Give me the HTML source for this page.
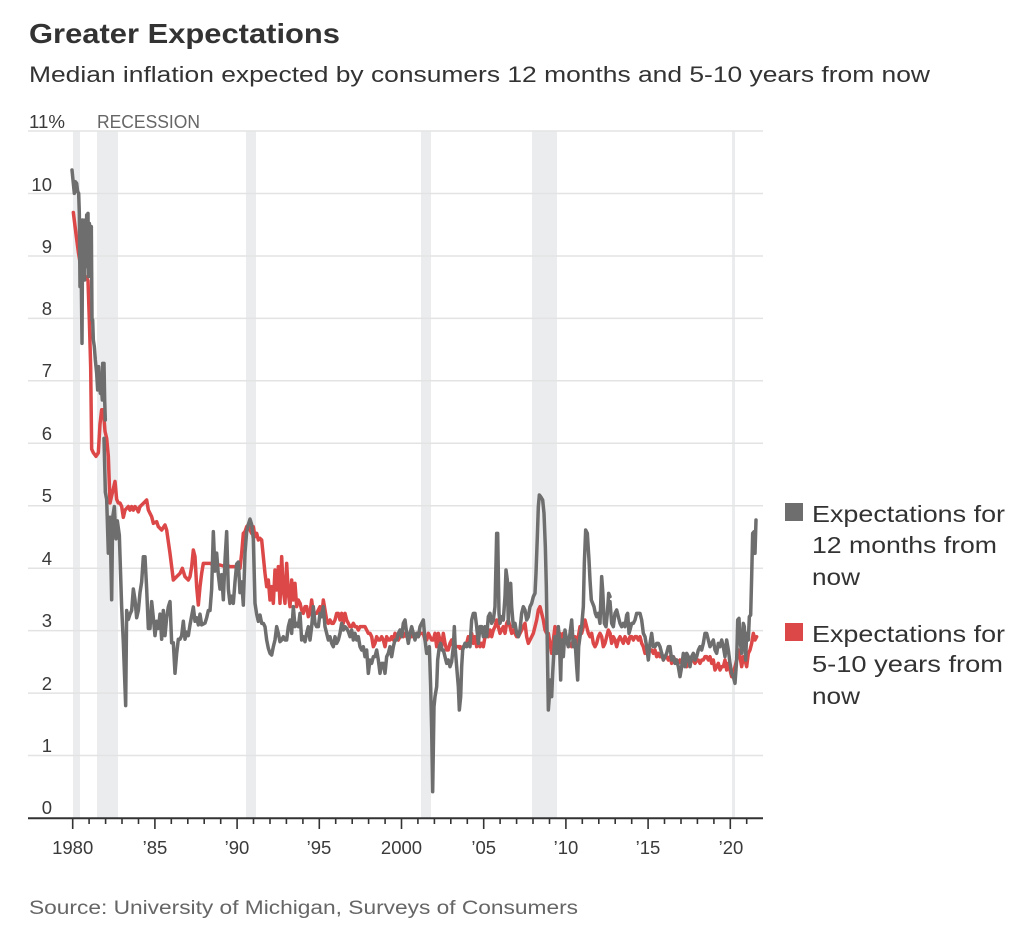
<!DOCTYPE html>
<html>
<head>
<meta charset="utf-8">
<style>
html,body{margin:0;padding:0;background:#fff;}
svg{display:block;}
text{font-family:"Liberation Sans",sans-serif;}
</style>
</head>
<body>
<svg width="1024" height="931" viewBox="0 0 1024 931" xmlns="http://www.w3.org/2000/svg">
<rect x="0" y="0" width="1024" height="931" fill="#fff"/>
<text x="29" y="43" font-size="28" font-weight="bold" fill="#333" textLength="311" lengthAdjust="spacingAndGlyphs">Greater Expectations</text>
<text x="29" y="82" font-size="22" fill="#333" textLength="901" lengthAdjust="spacingAndGlyphs">Median inflation expected by consumers 12 months and 5-10 years from now</text>
<g fill="#ebecee">
<rect x="73" y="131" width="7" height="687"/>
<rect x="97" y="131" width="21" height="687"/>
<rect x="246" y="131" width="10" height="687"/>
<rect x="421" y="131" width="10" height="687"/>
<rect x="532" y="131" width="25" height="687"/>
<rect x="732" y="131" width="3" height="687"/>
</g>
<g stroke="#e3e3e3" stroke-width="1.5">
<line x1="28" y1="131" x2="763" y2="131"/>
<line x1="28" y1="193.5" x2="763" y2="193.5"/>
<line x1="28" y1="256" x2="763" y2="256"/>
<line x1="28" y1="318.4" x2="763" y2="318.4"/>
<line x1="28" y1="380.8" x2="763" y2="380.8"/>
<line x1="28" y1="443.3" x2="763" y2="443.3"/>
<line x1="28" y1="505.7" x2="763" y2="505.7"/>
<line x1="28" y1="568.2" x2="763" y2="568.2"/>
<line x1="28" y1="630.6" x2="763" y2="630.6"/>
<line x1="28" y1="693.1" x2="763" y2="693.1"/>
<line x1="28" y1="755.5" x2="763" y2="755.5"/>
</g>
<g font-size="18.5" fill="#3a3a3a" text-anchor="end">
<text x="52" y="191">10</text>
<text x="52" y="253">9</text>
<text x="52" y="315">8</text>
<text x="52" y="377">7</text>
<text x="52" y="440">6</text>
<text x="52" y="502">5</text>
<text x="52" y="565">4</text>
<text x="52" y="627">3</text>
<text x="52" y="690">2</text>
<text x="52" y="752">1</text>
<text x="52" y="814">0</text>
</g>
<text x="29" y="128" font-size="18.5" fill="#3a3a3a" textLength="36" lengthAdjust="spacingAndGlyphs">11%</text>
<text x="97" y="128" font-size="18.5" fill="#666" textLength="103" lengthAdjust="spacingAndGlyphs">RECESSION</text>
<g fill="none" stroke="#dc4848" stroke-width="3.5" stroke-linejoin="round" stroke-linecap="round">
<polyline vector-effect="non-scaling-stroke" transform="translate(60,158.7) scale(0.33333,0.3586)" points="40,150 48,210 55,260 62,300 70,320 78,330 84,340 88,450 92,580 95,810 100,820 108,830 115,820 120,740 125,700 130,700 135,760 140,780 145,830 150,960 155,940 160,920 165,900 170,950 175,960 180,960 185,970 190,1000 195,980 200,975 205,970 210,980 215,970 220,980 225,970 230,975 235,985 240,970"/>
<polyline vector-effect="non-scaling-stroke" transform="translate(140,440) scale(0.33333)" points="0,200 10,190 20,180 25,210 35,230 40,250 50,245 55,260 65,270 75,255 80,270 90,340 100,420 110,410 120,400 127,385 135,410 145,420 150,410 155,380 160,330 165,350 170,440 175,495 180,440 185,400 190,370 200,370 210,370 220,375 230,375 240,375 250,378 260,375 270,380 280,380 290,380 300,385 305,340 310,280 315,275 320,260 325,255 330,270 335,280 340,260 345,290 350,280 355,300 360,295 365,300 370,350 375,400 380,440 385,420 390,480 395,440 400,490 405,390 410,450 415,380 420,490 425,350 430,450 435,490 440,370 445,460 450,500 455,420 460,480 465,430 470,500 475,480 480,490"/>
<polyline vector-effect="non-scaling-stroke" transform="translate(240,500) scale(0.33333)" points="180,310 185,330 190,340 195,320 200,320 205,350 210,340 215,300 220,340 225,340 230,340 235,330 240,320 245,350 250,300 255,330 260,360 265,370 270,360 275,370 280,370 285,360 290,340 295,340 300,360 305,340 310,370 315,340 320,360 325,370 330,380 335,380 340,370 345,380 350,380 355,390 360,380 365,380 370,380 375,380 380,390 385,400 390,400 395,410 400,440 405,430 410,410 415,420 420,420 425,410 430,420 435,440 440,410 445,420 450,420 455,410 460,420 465,400 470,410 475,420 480,410 485,400 490,410 495,400 500,410 505,400 510,400 515,410 520,400 525,410 530,400 535,410 540,400 545,400 550,400 555,420 560,420 565,400 570,410 575,420 580,420 585,400 590,440 595,400 600,420 605,440 610,400 615,430 620,450 625,450 630,430 635,420 640,440 650,440 660,440"/>
<polyline vector-effect="non-scaling-stroke" transform="translate(410,480) scale(0.33333)" points="150,505 160,500 170,490 175,470 180,480 185,460 190,490 195,470 200,500 205,480 210,500 215,490 220,500 225,470 230,460 235,470 240,450 245,470 250,450 255,440 260,420 265,440 270,460 275,450 280,440 285,460 290,430 295,420 300,440 305,460 310,450 315,460 320,470 325,470 330,460 335,450 340,440 345,430 350,470 355,490 360,480 365,470 370,460 375,440 380,420 385,390 390,380 395,400 400,420 405,450 410,460 415,460 420,490 425,520 430,480 435,440 440,450 445,480 450,460 455,480 460,460 465,470 470,480 475,500 480,490 485,500 490,480 495,470 500,500 505,470 510,440 515,460 520,440 525,420 530,440 535,460 540,470 545,460 550,490 555,500 560,490 565,470 570,460 575,470 580,500 585,490 590,470 595,450 600,460"/>
<polyline vector-effect="non-scaling-stroke" transform="translate(590,500) scale(0.33333)" points="60,400 65,430 70,410 75,420 80,440 85,420 90,410 95,420 100,430 105,410 110,420 115,430 120,410 125,410 130,420 135,410 140,410 145,420 150,410 155,430 160,440 165,460 170,450 175,460 180,450 185,450 190,460 195,450 200,470 205,460 210,470 215,460 220,480 225,470 230,470 235,480 240,470 245,490 250,470 255,480 260,480 265,490 270,480 275,490 280,480 285,490 290,500 295,480 300,490 305,470 310,480 315,490 320,480 325,480 330,490 335,480 340,480 345,470 350,470 355,480 360,470 365,490 370,480 375,510 380,500 385,490 390,510 395,500 400,500 405,480 410,510 415,490 420,510 425,530 430,520 435,500 440,480 445,450 450,470 455,500 460,470 465,480 470,500 475,460 480,450 485,430 490,400 495,420 500,410"/>
</g>
<g fill="none" stroke="#6e6e6e" stroke-width="3.5" stroke-linejoin="round" stroke-linecap="round">
<polyline vector-effect="non-scaling-stroke" transform="translate(66,160) scale(0.33333)" points="18,30 22,70 25,100 28,65 32,70 35,95 38,100 40,160 42,380 44,180 46,370 48,550 50,180 52,330 54,190 56,360 58,180 60,300 62,165 64,320 66,160 68,350 70,190 72,200 74,300 76,200 78,480 80,480 82,540 85,560 88,600 92,640 95,690 98,620 100,650 103,700 106,680 109,720 110,610 114,610 116,720 118,780"/>
<polyline vector-effect="non-scaling-stroke" transform="translate(60,158.7) scale(0.33333,0.3586)" points="132,780 136,930 140,950 145,1100 150,1000 155,1230 158,1000 163,970 168,1060 172,1010 178,1050 185,1250 190,1350 197,1525 200,1260 205,1285 210,1270 215,1260 220,1200 225,1230 230,1280 235,1260 240,1210 245,1180 250,1110 255,1110 260,1200 265,1310 270,1310 275,1235 280,1280 285,1330 290,1290 295,1310 300,1270 305,1340 310,1260 315,1330 320,1280 325,1250 330,1235 335,1350 340,1350 345,1435 350,1380 355,1340 360,1340 365,1330 370,1290 375,1340 380,1320 385,1330 390,1300 400,1250 405,1290 410,1280 415,1300 420,1270 425,1300 435,1295 440,1280 445,1260 450,1260 455,1200 460,1040 465,1150 470,1100 475,1160 480,1200 485,1160 490,1230 495,1120 500,1040 505,1200 510,1240 515,1220 520,1240 525,1180 530,1130 535,1125 540,1210 545,1180 550,1245 555,1100 560,1040 565,1020 570,1005 575,1020 580,1060 585,1240 590,1270 595,1290"/>
<polyline vector-effect="non-scaling-stroke" transform="translate(240,500) scale(0.33333)" points="55,360 60,345 65,370 70,370 75,380 80,420 85,445 90,460 95,465 100,440 105,420 110,380 115,400 120,425 125,420 130,410 135,420 140,420 145,380 150,360 155,400 160,320 165,380 170,370 175,380 180,340 185,420 190,410 195,425 200,400 205,380 210,420 215,380 220,320 225,370 230,380 235,380 240,340 245,350 250,320 255,380 260,400 265,420 270,410 275,430 280,440 285,410 290,430 295,420 300,400 305,370 310,390 315,380 320,385 325,395 330,410 335,390 340,420 345,400 350,420 355,410 360,440 365,450 370,440 375,470 380,450 385,520 390,480 395,490 400,470 405,470 410,450 415,480 420,520 425,490 430,490 435,520 440,470 445,460 450,440 455,470 460,440 465,420 470,420 475,400 480,390 485,410 490,370 495,360 500,400 505,430 510,400 515,380 520,400 525,420 530,400 535,410 540,380 545,370 550,360 555,420 560,460"/>
<polyline vector-effect="non-scaling-stroke" transform="translate(410,480) scale(0.33333)" points="50,510 52,520 58,500 62,620 65,750 68,935 72,680 75,650 80,620 83,540 88,500 92,490 96,510 100,510 105,530 110,550 115,540 120,560 125,545 130,500 133,440 136,510 140,560 145,620 148,690 152,650 155,560 158,510 165,490 170,500 175,490 180,500 185,420 190,400 195,400 200,440 205,490 210,440 215,440 220,470 225,440 230,470 235,410 240,400 245,430 250,420 255,380 260,160 263,160 267,400 270,430 275,410 280,420 285,350 288,270 292,300 295,430 298,320 302,310 305,380 310,440 315,430 320,460 325,470 330,450 335,400 340,380 345,390 350,420 355,410 360,380 365,370 370,350 375,340 378,280 382,170 385,80 388,45 392,50 398,60 402,100 406,200 409,320 412,500 415,690 418,650 421,600 425,650 428,580 432,510 435,470 440,520 445,440 448,480 452,600 455,480 460,530 465,450 470,480 475,500 480,460 485,420 490,500 495,480 500,560 503,600 506,500 510,470 515,440 520,380 523,250 527,150 532,160 537,240 540,300 544,360 548,370 552,380 556,400 560,410 565,400 570,430 575,290 578,330 583,430 588,440 592,400 596,340 600,350"/>
<polyline vector-effect="non-scaling-stroke" transform="translate(590,500) scale(0.33333)" points="60,305 62,330 65,370 70,380 75,340 80,330 85,350 90,370 95,380 100,370 105,380 110,345 113,340 117,400 120,390 125,370 130,370 135,360 140,340 145,340 150,340 155,360 160,400 165,410 170,440 175,480 180,430 185,400 190,440 195,440 200,430 205,430 210,440 215,460 220,480 225,470 230,460 235,440 240,440 245,480 250,470 255,490 260,480 265,500 270,530 275,500 280,460 285,500 290,460 295,470 300,500 305,470 310,460 315,480 320,470 325,450 330,440 335,450 340,430 345,400 350,400 355,420 360,440 365,430 370,420 375,450 380,460 385,430 390,440 395,420 400,440 405,470 410,420 415,450 420,490 425,520 430,530 435,550 440,480 443,360 447,355 450,420 455,460 460,370 463,380 467,480 470,400 475,420 478,350 482,345 485,230 488,100 492,95 495,160 498,60"/>
</g>
<line x1="28" y1="818.3" x2="763" y2="818.3" stroke="#333" stroke-width="2"/>
<g stroke="#333" stroke-width="1.6">
<line x1="72.7" y1="818" x2="72.7" y2="829"/>
<line x1="89.1" y1="818" x2="89.1" y2="824"/>
<line x1="105.6" y1="818" x2="105.6" y2="824"/>
<line x1="122.0" y1="818" x2="122.0" y2="824"/>
<line x1="138.5" y1="818" x2="138.5" y2="824"/>
<line x1="154.9" y1="818" x2="154.9" y2="829"/>
<line x1="171.3" y1="818" x2="171.3" y2="824"/>
<line x1="187.8" y1="818" x2="187.8" y2="824"/>
<line x1="204.2" y1="818" x2="204.2" y2="824"/>
<line x1="220.7" y1="818" x2="220.7" y2="824"/>
<line x1="237.1" y1="818" x2="237.1" y2="829"/>
<line x1="253.5" y1="818" x2="253.5" y2="824"/>
<line x1="270.0" y1="818" x2="270.0" y2="824"/>
<line x1="286.4" y1="818" x2="286.4" y2="824"/>
<line x1="302.9" y1="818" x2="302.9" y2="824"/>
<line x1="319.3" y1="818" x2="319.3" y2="829"/>
<line x1="335.7" y1="818" x2="335.7" y2="824"/>
<line x1="352.2" y1="818" x2="352.2" y2="824"/>
<line x1="368.6" y1="818" x2="368.6" y2="824"/>
<line x1="385.1" y1="818" x2="385.1" y2="824"/>
<line x1="401.5" y1="818" x2="401.5" y2="829"/>
<line x1="417.9" y1="818" x2="417.9" y2="824"/>
<line x1="434.4" y1="818" x2="434.4" y2="824"/>
<line x1="450.8" y1="818" x2="450.8" y2="824"/>
<line x1="467.3" y1="818" x2="467.3" y2="824"/>
<line x1="483.7" y1="818" x2="483.7" y2="829"/>
<line x1="500.1" y1="818" x2="500.1" y2="824"/>
<line x1="516.6" y1="818" x2="516.6" y2="824"/>
<line x1="533.0" y1="818" x2="533.0" y2="824"/>
<line x1="549.5" y1="818" x2="549.5" y2="824"/>
<line x1="565.9" y1="818" x2="565.9" y2="829"/>
<line x1="582.3" y1="818" x2="582.3" y2="824"/>
<line x1="598.8" y1="818" x2="598.8" y2="824"/>
<line x1="615.2" y1="818" x2="615.2" y2="824"/>
<line x1="631.7" y1="818" x2="631.7" y2="824"/>
<line x1="648.1" y1="818" x2="648.1" y2="829"/>
<line x1="664.5" y1="818" x2="664.5" y2="824"/>
<line x1="681.0" y1="818" x2="681.0" y2="824"/>
<line x1="697.4" y1="818" x2="697.4" y2="824"/>
<line x1="713.9" y1="818" x2="713.9" y2="824"/>
<line x1="730.3" y1="818" x2="730.3" y2="829"/>
<line x1="746.7" y1="818" x2="746.7" y2="824"/>
</g>
<g font-size="18.5" fill="#3a3a3a" text-anchor="middle">
<text x="72.7" y="854">1980</text>
<text x="155" y="854">’85</text>
<text x="237" y="854">’90</text>
<text x="319" y="854">’95</text>
<text x="401.5" y="854">2000</text>
<text x="483.7" y="854">’05</text>
<text x="566" y="854">’10</text>
<text x="648" y="854">’15</text>
<text x="731" y="854">’20</text>
</g>
<rect x="785" y="503" width="18" height="18" fill="#6e6e6e"/>
<g font-size="23" fill="#333">
<text x="812" y="522" textLength="193" lengthAdjust="spacingAndGlyphs">Expectations for</text>
<text x="812" y="553" textLength="185" lengthAdjust="spacingAndGlyphs">12 months from</text>
<text x="812" y="585" textLength="48" lengthAdjust="spacingAndGlyphs">now</text>
</g>
<rect x="785" y="623" width="18" height="18" fill="#dc4848"/>
<g font-size="23" fill="#333">
<text x="812" y="642" textLength="193" lengthAdjust="spacingAndGlyphs">Expectations for</text>
<text x="812" y="672" textLength="191" lengthAdjust="spacingAndGlyphs">5-10 years from</text>
<text x="812" y="704" textLength="48" lengthAdjust="spacingAndGlyphs">now</text>
</g>
<text x="29" y="914" font-size="19" fill="#666" textLength="549" lengthAdjust="spacingAndGlyphs">Source: University of Michigan, Surveys of Consumers</text>
</svg>
</body>
</html>
